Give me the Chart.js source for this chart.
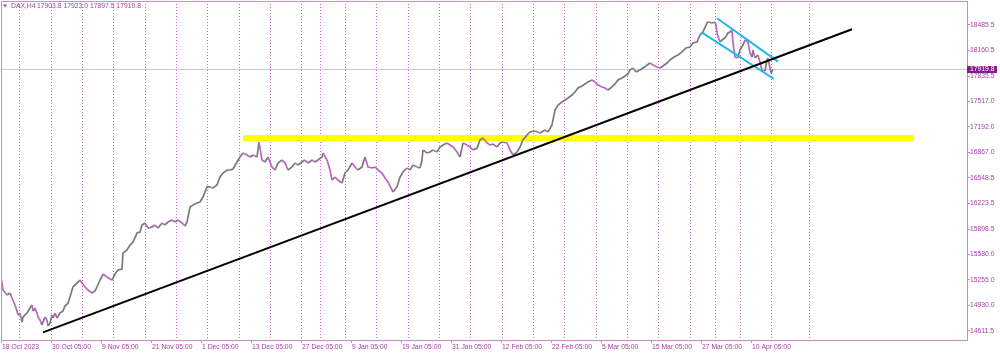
<!DOCTYPE html>
<html><head><meta charset="utf-8">
<script src="https://cdn.jsdelivr.net/npm/chart.js@4.4.1/dist/chart.umd.min.js"></script>
<style>html,body{margin:0;padding:0;background:#fff;overflow:hidden}canvas{display:block}</style>
</head><body>
<canvas id="c" width="1000" height="353"></canvas>
<script>
// ---- data (bar number = H4 bar index from the left edge) ----
const bars = [1,2,3,7,10,12,15,17,18,20,22,23,27,30,32,33,35,37,38,40,42,43,45,47,48,50,52,53,55,57,60,63,65,68,70,72,73,77,80,82,85,88,92,95,97,100,103,107,112,115,118,122,123,127,130,133,137,140,142,145,148,152,155,158,162,165,168,172,175,178,182,185,187,190,193,197,200,203,207,210,213,217,220,223,227,230,233,237,240,243,247,250,253,257,259,262,265,268,272,275,278,282,285,288,292,295,298,302,305,308,312,315,318,322,323,327,330,332,335,338,342,345,348,352,355,358,362,365,368,372,375,378,382,385,388,392,393,397,400,403,407,410,413,417,420,422,423,427,430,433,437,440,443,447,450,453,457,460,463,467,470,473,477,480,483,487,490,493,497,500,503,507,510,513,517,520,523,527,530,535,540,545,548,552,555,558,562,565,568,572,575,578,582,585,588,592,595,598,602,605,608,612,615,618,622,625,628,630,633,636,640,643,646,650,653,657,660,663,667,670,674,678,682,686,690,693,697,700,703,707,708,712,715,716,717,720,722,725,728,730,732,733,735,737,738,740,743,745,748,750,752,753,755,758,762,765,767,768,770,771,773];
const closes = [15279,15215,15127,15063,15089,15025,14937,14861,14810,14835,14720,14785,14835,14899,14937,14861,14899,14835,14785,14747,14683,14721,14785,14747,14671,14709,14810,14772,14835,14772,14835,14861,14924,14962,15038,15127,15165,15215,15253,15215,15165,15127,15089,15114,15165,15253,15329,15291,15253,15329,15380,15392,15595,15633,15696,15734,15848,15861,15950,15975,15911,15924,15950,15911,15975,15950,15987,16013,15987,16013,15975,15937,15987,16177,16203,16228,16241,16304,16431,16431,16418,16456,16557,16608,16646,16646,16658,16747,16810,16861,16836,16810,16836,16810,17000,16772,16747,16810,16684,16646,16734,16772,16734,16646,16684,16734,16709,16747,16772,16734,16772,16747,16772,16810,16861,16772,16646,16519,16557,16519,16481,16608,16646,16734,16684,16646,16684,16810,16684,16671,16684,16646,16608,16545,16494,16393,16367,16431,16557,16621,16671,16646,16709,16684,16671,16772,16899,16861,16874,16899,16874,16937,16962,16988,16962,16937,16874,16810,16988,16962,16937,16899,16924,17026,17051,16988,16962,16975,16937,16988,17000,16988,16899,16836,16874,16937,17026,17089,17127,17140,17114,17152,17127,17216,17405,17469,17507,17532,17557,17595,17633,17684,17709,17735,17760,17785,17760,17722,17697,17684,17659,17697,17735,17785,17810,17836,17861,17912,17937,17886,17912,17937,17962,18000,17975,17950,17937,17962,18000,18038,18076,18102,18140,18190,18203,18254,18266,18355,18393,18507,18520,18507,18520,18482,18380,18266,18292,18317,18380,18393,18418,18254,18076,18064,18076,18165,18228,18292,18266,18127,18076,18165,18064,18102,17912,17899,18038,18064,17937,17874,17919.8];
const weekStarts = [19,51,82,113,145,176,207,239,270,301,320,345,376,408,439,470,502,533,564,596,627,658,690,715,740,771,809];
const labelBars = [1,51,101,151,201,251,301,351,401,451,501,551,601,651,701,751];
const dateLabels = ['18 Oct 2023','30 Oct 05:00','9 Nov 05:00','21 Nov 05:00','1 Dec 05:00','13 Dec 05:00','27 Dec 05:00','9 Jan 05:00','19 Jan 05:00','31 Jan 05:00','12 Feb 05:00','22 Feb 05:00','5 Mar 05:00','15 Mar 05:00','27 Mar 05:00','10 Apr 05:00'];
const priceTicks = [18485.5,18160.5,17835.5,17517.0,17192.0,16867.0,16548.5,16223.5,15898.5,15580.0,15255.0,14930.0,14611.5];
const symbolName = 'DAX,H4';
const lastOHLC = [17903.8, 17923.0, 17897.5, 17919.8];
const zoneBars = [243, 913];
const zoneLevels = [17051, 17051];
const trendBars = [43, 852];
const trendLevels = [14591, 18427];
const chanUpBars = [717, 778];
const chanUpLevels = [18566, 18017];
const chanLoBars = [702, 774];
const chanLoLevels = [18384, 17798];
const xRange = [1, 967];
const yRange = [14494, 18785];

// ---- styles ----
const FRAME = '#c98bc9';
const TEXT = '#a43fa4';
const GRID = '#c766c7';
const UP = '#7a7a7a';
const DOWN = '#bb66c3';
const FONT = {family: 'Liberation Sans', size: 6.8};

const pts = (xs, ys) => xs.map((x, i) => ({x, y: ys[i]}));
const lastClose = lastOHLC[3];

const overlay = {
  id: 'overlay',
  afterDraw(chart) {
    const {ctx, chartArea: a, scales} = chart;
    ctx.save();
    ctx.strokeStyle = FRAME; ctx.lineWidth = 1;
    ctx.beginPath();
    ctx.moveTo(a.left + 0.5, a.bottom); ctx.lineTo(a.left + 0.5, a.top + 0.5); ctx.lineTo(a.right, a.top + 0.5);
    ctx.stroke();
    ctx.fillStyle = TEXT;
    ctx.beginPath(); ctx.moveTo(3, 4.5); ctx.lineTo(7, 4.5); ctx.lineTo(5, 7.5); ctx.closePath(); ctx.fill();
    ctx.font = '6.8px "Liberation Sans"';
    ctx.textBaseline = 'middle'; ctx.textAlign = 'left';
    ctx.fillText(symbolName, 11, 6);
    ctx.fillText(lastOHLC.map(v => v.toFixed(1)).join(' '), 37, 6);
    const y = Math.round(scales.y.getPixelForValue(lastClose));
    ctx.fillStyle = '#8a1a8a';
    ctx.fillRect(a.right, y - 3, 30, 7);
    ctx.fillStyle = '#ffffff';
    ctx.fillText(lastClose.toFixed(1), a.right + 3, y + 0.5);
    ctx.restore();
  }
};

new Chart(document.getElementById('c'), {
  type: 'line',
  data: {
    datasets: [
      {data: pts(trendBars, trendLevels), borderColor: '#000000', borderWidth: 2, pointRadius: 0},
      {data: pts(chanUpBars, chanUpLevels), borderColor: '#1cb8ee', borderWidth: 2, pointRadius: 0},
      {data: pts(chanLoBars, chanLoLevels), borderColor: '#1cb8ee', borderWidth: 2, pointRadius: 0},
      {data: pts(bars, closes), borderWidth: 1.7, pointRadius: 0, borderColor: UP,
       segment: {borderColor: c => (c.p1.parsed.y >= c.p0.parsed.y ? UP : DOWN)}},
      {data: pts(xRange, [lastClose, lastClose]), borderColor: '#c8c8c8', borderWidth: 1, pointRadius: 0},
      {data: pts(zoneBars, zoneLevels), borderColor: '#ffff00', borderWidth: 6, pointRadius: 0, borderCapStyle: 'butt'}
    ]
  },
  options: {
    responsive: false, animation: false, devicePixelRatio: 1,
    layout: {padding: {left: 1, top: 1, right: 0, bottom: 0}},
    plugins: {legend: {display: false}, tooltip: {enabled: false}},
    elements: {line: {tension: 0}},
    scales: {
      x: {
        type: 'linear', position: 'bottom', min: xRange[0], max: xRange[1],
        afterBuildTicks: s => { s.ticks = labelBars.map(v => ({value: v})); },
        afterFit: s => { s.height = 13; s.paddingLeft = 0; s.paddingRight = 0; },
        ticks: {autoSkip: false, maxRotation: 0, align: 'start', labelOffset: 1, padding: 0, color: TEXT, font: FONT,
                callback: (v, i) => dateLabels[i]},
        grid: {drawOnChartArea: false, drawTicks: true, tickLength: 3, color: FRAME},
        border: {color: FRAME, width: 1}
      },
      xg: {
        type: 'linear', position: 'bottom', min: xRange[0], max: xRange[1],
        afterBuildTicks: s => { s.ticks = weekStarts.map(v => ({value: v})); },
        afterFit: s => { s.height = 0; s.paddingLeft = 0; s.paddingRight = 0; },
        ticks: {display: false},
        grid: {drawOnChartArea: true, drawTicks: false, color: GRID, lineWidth: 1},
        border: {display: false, dash: [1, 2]}
      },
      y: {
        type: 'linear', position: 'right', min: yRange[0], max: yRange[1],
        afterBuildTicks: s => { s.ticks = priceTicks.map(v => ({value: v})); },
        afterFit: s => { s.width = 33; s.paddingTop = 0; s.paddingBottom = 0; },
        ticks: {padding: 0, color: TEXT, font: FONT, callback: v => Number(v).toFixed(1)},
        grid: {drawOnChartArea: false, drawTicks: true, tickLength: 3, color: FRAME},
        border: {color: FRAME, width: 1}
      }
    }
  },
  plugins: [overlay]
});
</script>
</body></html>
